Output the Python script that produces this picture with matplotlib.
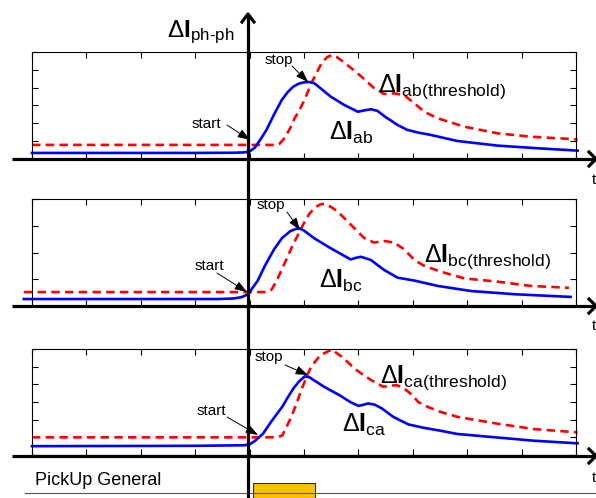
import matplotlib.pyplot as plt
from matplotlib.patches import Rectangle

plt.rcParams['font.family'] = ['Liberation Sans', 'DejaVu Sans']
plt.rcParams['mathtext.fontset'] = 'custom'
plt.rcParams['mathtext.rm'] = 'Liberation Sans'
plt.rcParams['mathtext.bf'] = 'Liberation Sans:bold'
plt.rcParams['mathtext.it'] = 'Liberation Sans:italic'

# time axis: ticks every unit, t=0 at the vertical axis
t_ticks = list(range(-4, 7))

# panel 1 (ab)
t_ab = [-4.0, -1.0, -0.3, -0.1, 0.0, 0.1, 0.2, 0.31, 0.45, 0.59, 0.7, 0.8, 0.9, 1.0, 1.1,
        1.19, 1.35, 1.49, 1.74, 1.99, 2.1, 2.23, 2.35, 2.5, 2.72, 2.9, 3.1, 3.33, 3.82,
        4.56, 5.3, 6.03]
i_ab = [0.34, 0.34, 0.35, 0.37, 0.42, 0.65, 1.1, 1.63, 2.5, 3.3, 3.75, 4.05, 4.22, 4.3, 4.32,
        4.25, 3.85, 3.5, 3.03, 2.65, 2.72, 2.79, 2.7, 2.35, 1.91, 1.63, 1.48, 1.35, 1.01,
        0.75, 0.6, 0.47]
t_ab_thr = [-4.0, 0.45, 0.55, 0.65, 0.75, 0.83, 0.9, 1.0, 1.14, 1.32, 1.42, 1.5, 1.6, 1.68,
            1.99, 2.29, 2.47, 2.66, 2.84, 3.03, 3.21, 3.46, 3.95, 4.56, 5.17, 6.03]
i_ab_thr = [0.79, 0.79, 0.85, 1.2, 1.75, 2.3, 2.65, 3.25, 4.28, 5.35, 5.7, 5.82, 5.72, 5.55,
            4.8, 3.97, 3.65, 3.68, 3.58, 3.12, 2.65, 2.28, 1.81, 1.44, 1.25, 1.1]

# panel 2 (bc)
t_bc = [-4.15, -0.6, -0.3, -0.15, -0.05, 0.0, 0.15, 0.28, 0.45, 0.6, 0.75, 0.85, 0.92, 1.0,
        1.19, 1.49, 1.7, 1.86, 1.95, 2.05, 2.23, 2.47, 2.72, 3.03, 3.46, 4.07, 4.87, 5.9]
i_bc = [0.26, 0.26, 0.28, 0.33, 0.42, 0.52, 0.95, 1.5, 2.12, 2.55, 2.8, 2.88, 2.9, 2.82,
        2.53, 2.16, 1.92, 1.74, 1.8, 1.84, 1.72, 1.35, 1.06, 0.95, 0.75, 0.56, 0.44, 0.34]
t_bc_thr = [-4.15, 0.3, 0.4, 0.5, 0.6, 0.7, 0.8, 0.9, 1.0, 1.1, 1.2, 1.3, 1.38, 1.5, 1.62,
            1.93, 2.1, 2.29, 2.47, 2.66, 2.84, 3.03, 3.21, 3.52, 3.95, 4.56, 5.17, 5.87]
i_bc_thr = [0.52, 0.52, 0.6, 0.95, 1.4, 1.85, 2.3, 2.7, 3.1, 3.45, 3.68, 3.8, 3.82, 3.7, 3.53,
            2.9, 2.55, 2.37, 2.43, 2.37, 2.12, 1.72, 1.5, 1.28, 1.03, 0.91, 0.75, 0.68]

# panel 3 (ca)
t_ca = [-4.0, -1.0, -0.1, 0.0, 0.1, 0.25, 0.4, 0.6, 0.7, 0.81, 0.92, 1.02, 1.1, 1.2, 1.37,
        1.65, 1.85, 2.0, 2.1, 2.18, 2.3, 2.43, 2.64, 2.92, 3.2, 3.5, 3.82, 4.52, 5.22, 6.03]
i_ca = [0.5, 0.52, 0.55, 0.6, 0.8, 1.22, 1.9, 2.73, 3.25, 3.79, 4.2, 4.46, 4.4, 4.2, 3.86,
        3.39, 3.0, 2.78, 2.85, 2.92, 2.85, 2.64, 2.16, 1.73, 1.54, 1.38, 1.19, 1.0, 0.81, 0.66]
t_ca_thr = [-4.0, 0.5, 0.6, 0.74, 0.85, 0.95, 1.05, 1.13, 1.3, 1.51, 1.7, 1.93, 2.1, 2.29,
            2.46, 2.6, 2.71, 2.85, 2.99, 3.1, 3.27, 3.5, 3.82, 4.52, 5.22, 6.03]
i_ca_thr = [1.0, 1.0, 1.1, 1.98, 2.8, 3.67, 4.45, 4.99, 5.65, 5.97, 5.55, 4.9, 4.5, 4.14,
            3.86, 3.93, 3.95, 3.75, 3.39, 3.0, 2.73, 2.45, 2.16, 1.79, 1.47, 1.28]

# pickup signal (time units)
pickup_on, pickup_off = 0.06, 1.2

W, H = 596, 498
fig = plt.figure(figsize=(W / 100, H / 100), dpi=100)


def panel(top, bottom, ymax, t, i, t_thr, i_thr):
    ax = fig.add_axes([32 / W, 1 - bottom / H, 544 / W, (bottom - top) / H])
    ax.set_xlim(-4, 6)
    ax.set_ylim(0, ymax)
    ax.set_xticks(t_ticks)
    ax.set_yticks(range(0, ymax + 1))
    ax.tick_params(direction='in', length=4, width=0.8, top=True, right=True,
                   labelbottom=False, labelleft=False)
    for s in ax.spines.values():
        s.set_linewidth(0.8)
    ax.plot(t_thr, i_thr, color='#FF0000', lw=1.9, ls=(0, (3.2, 2.0)), clip_on=False)
    ax.plot(t, i, color='#0000FF', lw=1.9, clip_on=False, solid_joinstyle='round')
    return ax


panel(52, 159, 6, t_ab, i_ab, t_ab_thr, i_ab_thr)
panel(199, 306, 4, t_bc, i_bc, t_bc_thr, i_bc_thr)
panel(349, 455, 6, t_ca, i_ca, t_ca_thr, i_ca_thr)

# pickup strip
axp = fig.add_axes([32 / W, 0, 544 / W, 36 / H])
axp.set_xlim(-4, 6)
axp.set_ylim(0, 36)
axp.axis('off')
axp.add_patch(Rectangle((pickup_on, 0), pickup_off - pickup_on, 15, fc='#FFC000',
                        ec='#333333', lw=0.8, zorder=3))

# overlay in pixel coordinates for the drawn axes and the notes
ov = fig.add_axes([0, 0, 1, 1], zorder=10)
ov.set_xlim(0, W)
ov.set_ylim(H, 0)
ov.axis('off')

ov.plot([25, W], [493, 493], color='#555555', lw=0.8, zorder=1)
lw_axis = 2.3
ov.plot([248, 248], [14, H], color='k', lw=lw_axis, solid_capstyle='butt')
ov.plot([242, 248, 254], [22, 14, 22], color='k', lw=lw_axis)
for y0 in (159, 306, 456):
    ov.plot([12, 596], [y0, y0], color='k', lw=lw_axis, solid_capstyle='butt')
    ov.plot([589, 596, 589], [y0 - 7, y0, y0 - 7 + 14], color='k', lw=lw_axis)

for y0 in (180, 326, 478):
    ov.text(592, y0, 't', fontsize=11, va='center', ha='left')

ov.text(35, 485, 'PickUp General', fontsize=13, va='baseline')


def dlabel(x, y, sub, size=18):
    ov.text(x, y, r'$\Delta\mathbf{I}_{\text{%s}}$' % sub, fontsize=size, va='baseline')


dlabel(167, 37, 'ph-ph', 17.5)
dlabel(378, 92, 'ab(threshold)')
dlabel(329, 140, 'ab')
dlabel(424, 262, 'bc(threshold)')
dlabel(319, 288, 'bc')
dlabel(380, 383, 'ca(threshold)')
dlabel(342, 432, 'ca')

arrow = dict(arrowstyle='-|>,head_length=0.5,head_width=0.18', color='k', lw=0.7,
             shrinkA=0, shrinkB=0, mutation_scale=15)
notes = [('start', (192, 128), (227, 125), (250, 140)),
         ('stop', (265, 64), (292, 66), (308, 82)),
         ('start', (195, 270), (217, 273), (247, 292)),
         ('stop', (257, 209), (287, 212), (300, 230)),
         ('start', (197, 415), (227, 417), (258, 435)),
         ('stop', (255, 361), (285, 365), (308, 375))]
for txt, pos, tail, tip in notes:
    ov.text(pos[0], pos[1], txt, fontsize=11, va='baseline')
    ov.annotate('', xy=tip, xytext=tail, arrowprops=arrow)

fig.savefig('out.png', dpi=100)
